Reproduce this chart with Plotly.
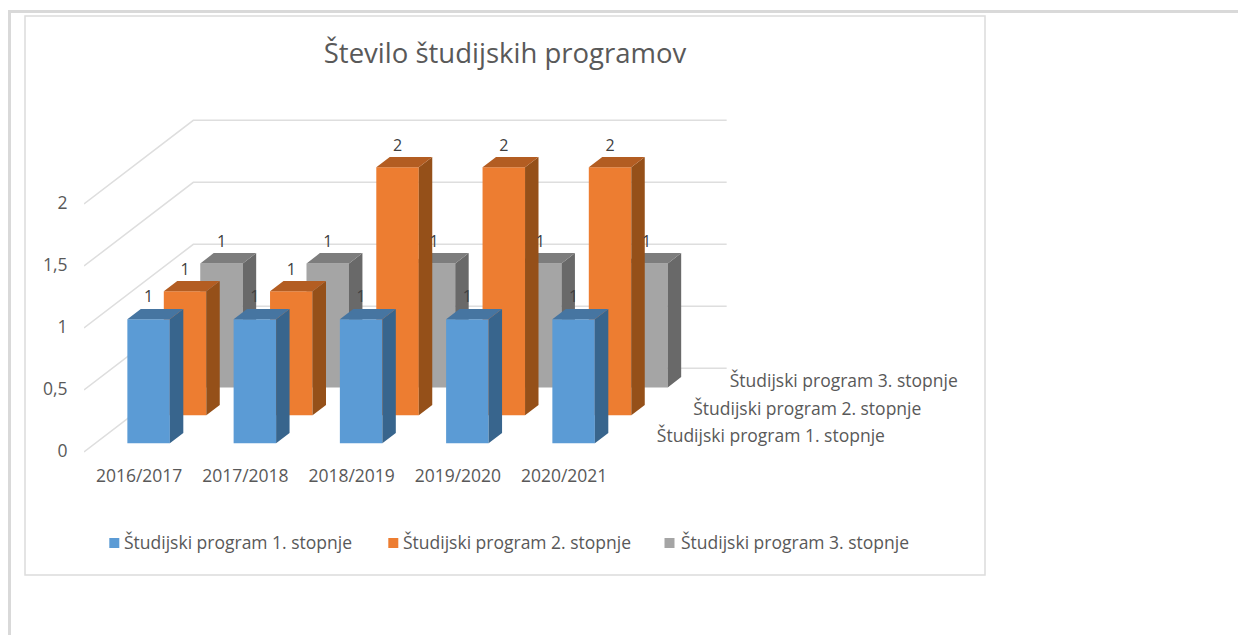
import plotly.graph_objects as go

# ---------- data ----------
title_text = "Število študijskih programov"
categories = ["2016/2017", "2017/2018", "2018/2019", "2019/2020", "2020/2021"]
series_names = ["Študijski program 1. stopnje", "Študijski program 2. stopnje", "Študijski program 3. stopnje"]
values_1 = [1, 1, 1, 1, 1]
values_2 = [1, 1, 2, 2, 2]
values_3 = [1, 1, 1, 1, 1]
value_ticks = [0, 0.5, 1, 1.5, 2]
value_tick_labels = ["0", "0,5", "1", "1,5", "2"]
series_values = [values_1, values_2, values_3]

front_colors = ["#5B9BD5", "#ED7D31", "#A5A5A5"]
side_colors = ["#38658D", "#955019", "#696969"]
top_colors = ["#4675A1", "#B35D22", "#7D7D7D"]
GRID = "#DEDEDE"
TEXT = "#595959"
FONT = "Open Sans"
TICK_SIZE = 17.5

W, H = 1238, 635
# plot geometry (pixels)
CAT_PX, UNIT_PX = 106.25, 124.0
LEFT_PX, RIGHT_PX, TOP_PX, BOTTOM_PX = 84.0, 730.0, 60.0, 456.0
ZERO_PX = 451.0
DEPTH_DX, DEPTH_DY, DEPTH_BASE = 109.3, 83.7, 1.0
BAR_W, BAR_D = 0.4, 0.123
LABEL_LIFT_PX = 2.5
CAT_LABEL_SHIFT_PX = 2.0
LEGEND_SWATCH_PX = [109.3, 388.3, 664.5]
LEGEND_TEXT_PX = [124.5, 403.5, 682.0]
LEGEND_Y_PX = 543.0


def project(cat, depth, value):
    """Oblique projection of (category, depth 0..1, value) onto the 2D axes."""
    x = cat + depth * DEPTH_DX / CAT_PX
    y = value + (depth * DEPTH_DY - DEPTH_BASE) / UNIT_PX
    return x, y


def poly(corners):
    pts = [project(*c) for c in corners]
    pts.append(pts[0])
    return [p[0] for p in pts] + [None], [p[1] for p in pts] + [None]


fig = go.Figure()

# walls: gridlines
gx, gy = [], []
for v in value_ticks:
    for c, d in [(-0.5, 0), (-0.5, 1), (len(categories) - 0.5 + 0.02, 1)]:
        px_, py_ = project(c, d, v)
        gx.append(px_)
        gy.append(py_)
    gx.append(None)
    gy.append(None)
fig.add_trace(go.Scatter(x=gx, y=gy, mode="lines", line=dict(color=GRID, width=1.5),
                         showlegend=False, hoverinfo="skip"))

# bars, back series first
labels = []
for s in reversed(range(len(series_values))):
    dc = (s + 0.5) / len(series_values)
    d0, d1 = dc - BAR_D / 2, dc + BAR_D / 2
    fx, fy, sx, sy, tx, ty = [], [], [], [], [], []
    for i, v in enumerate(series_values[s]):
        a, b = i - BAR_W / 2, i + BAR_W / 2
        px_, py_ = poly([(a, d0, 0), (b, d0, 0), (b, d0, v), (a, d0, v)])
        fx += px_; fy += py_
        px_, py_ = poly([(b, d0, 0), (b, d1, 0), (b, d1, v), (b, d0, v)])
        sx += px_; sy += py_
        px_, py_ = poly([(a, d0, v), (b, d0, v), (b, d1, v), (a, d1, v)])
        tx += px_; ty += py_
        labels.append((project(i, d0, v)[0], project(i, d1, v)[1] + LABEL_LIFT_PX / UNIT_PX, str(v)))
    for xs, ys, col in [(fx, fy, front_colors[s]), (sx, sy, side_colors[s]), (tx, ty, top_colors[s])]:
        fig.add_trace(go.Scatter(x=xs, y=ys, mode="lines", fill="toself", fillcolor=col,
                                 line=dict(width=0, color=col), showlegend=False,
                                 hoverinfo="skip", cliponaxis=False))

# data labels on top of every bar
fig.add_trace(go.Scatter(x=[l[0] for l in labels], y=[l[1] for l in labels], text=[l[2] for l in labels],
                         mode="text", textposition="top center",
                         textfont=dict(family=FONT, size=16, color="#404040"),
                         showlegend=False, hoverinfo="skip", cliponaxis=False))

# depth axis labels
dx_, dy_, dt_ = [], [], []
for s, name in enumerate(series_names):
    px_, py_ = project(len(categories) - 0.5 + 0.22, (s + 0.5) / len(series_names), 0)
    dx_.append(px_); dy_.append(py_); dt_.append(name)
fig.add_trace(go.Scatter(x=dx_, y=dy_, text=dt_, mode="text", textposition="middle right",
                         textfont=dict(family=FONT, size=TICK_SIZE, color=TEXT),
                         showlegend=False, hoverinfo="skip", cliponaxis=False))

frame_shapes = [
    dict(type="rect", xref="paper", yref="paper", x0=8 / W, x1=1, y0=1 - 13 / H, y1=1 - 10 / H,
         line_width=0, fillcolor="#D9D9D9", layer="below"),
    dict(type="rect", xref="paper", yref="paper", x0=8 / W, x1=11 / W, y0=0, y1=1 - 10 / H,
         line_width=0, fillcolor="#D9D9D9", layer="below"),
    dict(type="rect", xref="paper", yref="paper", x0=25 / W, x1=985 / W, y0=1 - 575 / H, y1=1 - 16 / H,
         line=dict(color="#DCDCDC", width=1.5), fillcolor="rgba(0,0,0,0)", layer="below"),
]
legend_shapes = [
    dict(type="rect", xref="paper", yref="paper", x0=sx_ / W, x1=(sx_ + 10) / W,
         y0=1 - (LEGEND_Y_PX + 5) / H, y1=1 - (LEGEND_Y_PX - 5) / H, line_width=0, fillcolor=col)
    for sx_, col in zip(LEGEND_SWATCH_PX, front_colors)
]
legend_texts = [
    dict(text=name, xref="paper", yref="paper", x=tx_ / W, y=1 - (LEGEND_Y_PX - 1) / H,
         xanchor="left", yanchor="middle", showarrow=False, xshift=-3,
         font=dict(family=FONT, size=TICK_SIZE, color=TEXT))
    for tx_, name in zip(LEGEND_TEXT_PX, series_names)
]

fig.update_layout(
    width=W, height=H, margin=dict(l=0, r=0, t=0, b=0, autoexpand=False),
    showlegend=False,
    paper_bgcolor="white", plot_bgcolor="rgba(0,0,0,0)",
    font=dict(family=FONT, color=TEXT, size=TICK_SIZE),
    title=dict(text=title_text, x=505 / W, xref="paper", xanchor="center",
               y=1 - 53 / H, yref="paper", yanchor="middle",
               font=dict(family=FONT, size=27.5, color=TEXT)),
    xaxis=dict(domain=[LEFT_PX / W, RIGHT_PX / W],
               range=[-0.5, -0.5 + (RIGHT_PX - LEFT_PX) / CAT_PX],
               tickvals=[i + CAT_LABEL_SHIFT_PX / CAT_PX for i in range(len(categories))],
               ticktext=categories,
               showgrid=False, zeroline=False, showline=False,
               ticks="outside", ticklen=4, tickcolor="rgba(0,0,0,0)",
               tickfont=dict(family=FONT, size=TICK_SIZE, color=TEXT)),
    yaxis=dict(domain=[1 - BOTTOM_PX / H, 1 - TOP_PX / H],
               range=[(ZERO_PX - BOTTOM_PX) / UNIT_PX, (ZERO_PX - TOP_PX) / UNIT_PX],
               tickvals=value_ticks, ticktext=value_tick_labels,
               showgrid=False, zeroline=False, showline=False,
               ticks="outside", ticklen=12, tickcolor="rgba(0,0,0,0)",
               tickfont=dict(family=FONT, size=TICK_SIZE, color=TEXT)),
    shapes=frame_shapes + legend_shapes,
    annotations=legend_texts,
)

fig.write_html("out.html", config={"displayModeBar": False},
               post_script="document.body.style.margin='0';document.body.style.overflow='hidden';")
